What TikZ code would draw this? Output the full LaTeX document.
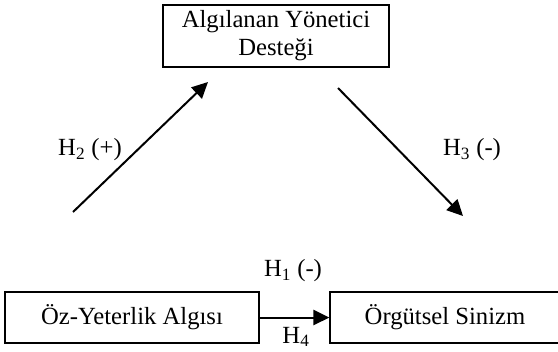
\documentclass[tikz,border=0pt]{standalone}
\usepackage{fontspec}
\setmainfont{Liberation Serif}
\usepackage{tikz}
\usetikzlibrary{arrows.meta}
\usetikzlibrary{shapes}

\tikzset{
  varbox/.style={draw, line width=1pt, inner sep=0pt, align=center, font=\fontsize{18.5}{21}\selectfont},
  hyplabel/.style={inner sep=0.75pt, font=\fontsize{18.5}{21}\selectfont},
  hyparrow/.style={line width=1.5pt, -{Triangle[length=12pt,width=11.5pt]}}
}

\begin{document}
\begin{tikzpicture}[x=0.75pt,y=0.75pt,yscale=-1,xscale=1]
%set diagram left start at 0, and has height of 351
\useasboundingbox (0,0) rectangle (558,351);

%Shape: Rectangle [id:yonetici]
\node [varbox, minimum width=169.5pt, minimum height=46.5pt] (yonetici) at (276,36) {Algılanan Yönetici\\Desteği};
%Shape: Rectangle [id:yeterlik]
\node [varbox, minimum width=190.5pt, minimum height=38.25pt] (yeterlik) at (132,317.5) {Öz-Yeterlik Algısı};
%Shape: Rectangle [id:sinizm]
\node [varbox, minimum width=172.5pt, minimum height=38.25pt] (sinizm) at (445,317.5) {Örgütsel Sinizm};

%Free ends of the diagonal arrows
\coordinate (h2start) at (73,212);
\coordinate (h2end) at (208,82);
\coordinate (h3start) at (338,88);
\coordinate (h3end) at (463,216);

%Straight Lines [id:h2]
\draw [hyparrow] (h2start) -- (h2end);
%Straight Lines [id:h3]
\draw [hyparrow] (h3start) -- (h3end);
%Straight Lines [id:h1]
\draw [hyparrow] (yeterlik.east) -- (sinizm.west);

% Text Node
\node [hyplabel] (lblh2) at (90,150) {H\textsubscript{2} (+)};
% Text Node
\node [hyplabel] (lblh3) at (472,150) {H\textsubscript{3} (-)};
% Text Node
\node [hyplabel] (lblh1) at (293,271) {H\textsubscript{1} (-)};
% Text Node
\node [hyplabel] (lblh4) at (296,337) {H\textsubscript{4}};

\end{tikzpicture}
\end{document}
